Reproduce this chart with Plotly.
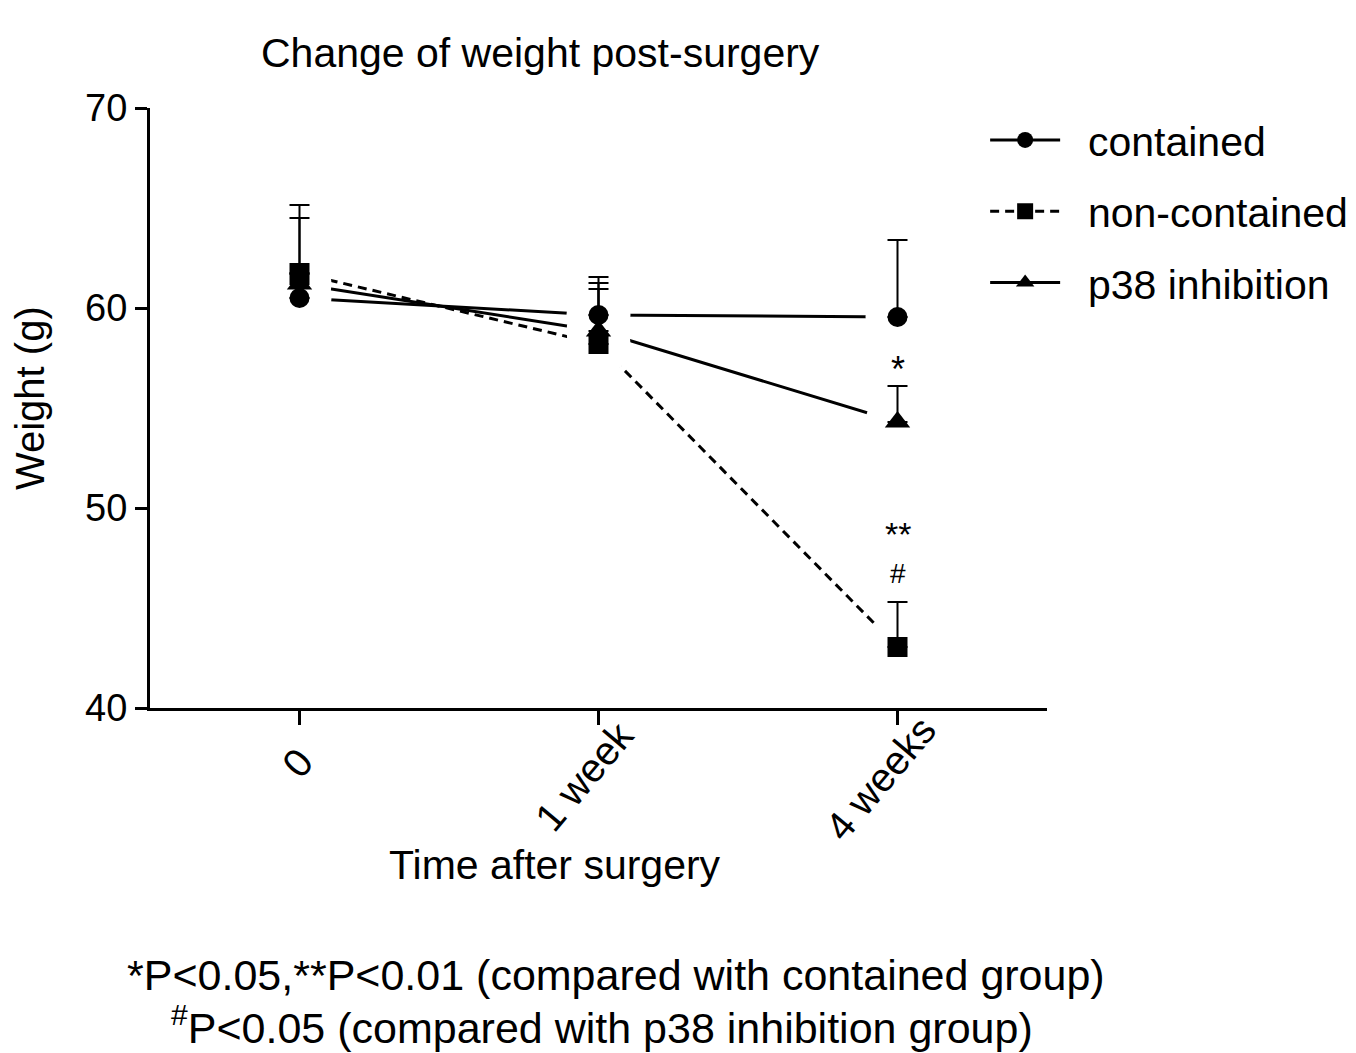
import plotly.graph_objects as go

# time points and group weights (mean, SD) in g
weeks = ["0", "1 week", "4 weeks"]
contained_mean = [60.5, 59.65, 59.55]
contained_sd = [1.2, 1.6, 3.85]
noncontained_mean = [61.75, 58.2, 43.05]
noncontained_sd = [3.4, 2.75, 2.25]
p38_mean = [61.2, 58.85, 54.3]
p38_sd = [3.3, 2.7, 1.8]

FONT = "Arial, Liberation Sans, sans-serif"
NB = "\u00a0\u00a0"
xpos = list(range(len(weeks)))

groups = [
    ("contained", contained_mean, contained_sd, "circle", "solid"),
    ("non-contained", noncontained_mean, noncontained_sd, "square", "dash"),
    ("p38 inhibition", p38_mean, p38_sd, "triangle-up", "solid"),
]

fig = go.Figure()

# connecting lines (these carry the legend)
for name, mean, sd, sym, dash in groups:
    fig.add_trace(go.Scatter(
        x=xpos, y=mean, name=NB + name, mode="lines+markers", legendgroup=name,
        line=dict(color="black", width=3, dash="9px,6px" if dash == "dash" else "solid"),
        marker=dict(symbol=sym, size=19 if sym != "triangle-up" else 21, color="black"),
        hoverinfo="skip",
    ))

# white halos so the lines stop short of the points
for name, mean, sd, sym, dash in groups:
    fig.add_trace(go.Scatter(
        x=xpos, y=mean, mode="markers", showlegend=False, hoverinfo="skip",
        marker=dict(symbol="circle", size=64, color="white"),
    ))

# points with upper SD bars (triangle drawn first, circle last)
for name, mean, sd, sym, dash in reversed(groups):
    fig.add_trace(go.Scatter(
        x=xpos, y=mean, mode="markers", showlegend=False,
        marker=dict(symbol=sym, size=20 if sym != "triangle-up" else 22, color="black"),
        error_y=dict(type="data", array=sd, arrayminus=[0] * len(sd), symmetric=False,
                     color="black", thickness=2, width=10),
    ))

# significance marks above the 4 week bars
fig.add_annotation(x=2, y=p38_mean[2] + p38_sd[2], text="*", showarrow=False,
                   yanchor="bottom", yshift=-6, font=dict(size=36, family=FONT))
fig.add_annotation(x=2, y=noncontained_mean[2] + noncontained_sd[2], text="#", showarrow=False,
                   yanchor="bottom", yshift=12, borderpad=0, font=dict(size=28, family=FONT))
fig.add_annotation(x=2, y=noncontained_mean[2] + noncontained_sd[2], text="**", showarrow=False,
                   yanchor="bottom", yshift=48, borderpad=0, font=dict(size=34, family=FONT))

# x tick labels, tilted
for i, lab in enumerate(weeks):
    fig.add_annotation(x=i, y=0, yref="paper", text=lab, textangle=-50, showarrow=False,
                       xanchor="center", yanchor="middle",
                       xshift=-2.4 * len(lab), yshift=-(52 + 2.6 * len(lab)),
                       font=dict(size=40, family=FONT))

fig.add_annotation(text="Change of weight post-surgery", xref="paper", yref="paper",
                   x=0.435, y=1.092, yanchor="middle", showarrow=False,
                   font=dict(size=41, family=FONT))
fig.add_annotation(text="Time after surgery", xref="paper", yref="paper",
                   x=0.451, y=-0.262, yanchor="middle", showarrow=False,
                   font=dict(size=41, family=FONT))
fig.add_annotation(text="Weight (g)", xref="paper", yref="paper", textangle=-90,
                   x=-0.1335, y=0.517, xanchor="center", yanchor="middle", showarrow=False,
                   borderpad=0, font=dict(size=40, family=FONT))
fig.add_annotation(text="*P&lt;0.05,**P&lt;0.01 (compared with contained group)",
                   xref="paper", yref="paper", x=0.5195, y=-0.445, yanchor="middle",
                   showarrow=False, font=dict(size=43, family=FONT))
fig.add_annotation(text="<sup>#</sup>P&lt;0.05 (compared with p38 inhibition group)",
                   xref="paper", yref="paper", x=0.504, y=-0.528, yanchor="middle",
                   showarrow=False, font=dict(size=43, family=FONT))

fig.update_layout(
    width=1356, height=1053,
    margin=dict(l=142, r=316, t=100, b=353),
    plot_bgcolor="white", paper_bgcolor="white",
    font=dict(family=FONT, size=38, color="black"),
    legend=dict(x=0.930, y=1.002, xanchor="left", yanchor="top", itemwidth=70,
                tracegroupgap=15, font=dict(size=41, family=FONT), bgcolor="rgba(0,0,0,0)"),
    xaxis=dict(range=[-0.5, 2.5], tickvals=xpos, showticklabels=False,
               showline=True, linecolor="black", linewidth=3, ticks="outside",
               ticklen=14, tickwidth=3, tickcolor="black", showgrid=False, zeroline=False),
    yaxis=dict(range=[40, 70], tickvals=[40, 50, 60, 70], showline=True, linecolor="black",
               linewidth=3, ticks="outside", ticklen=12, tickwidth=3, tickcolor="black",
               showgrid=False, zeroline=False, tickfont=dict(size=38)),
)

fig.write_html("out.html")
